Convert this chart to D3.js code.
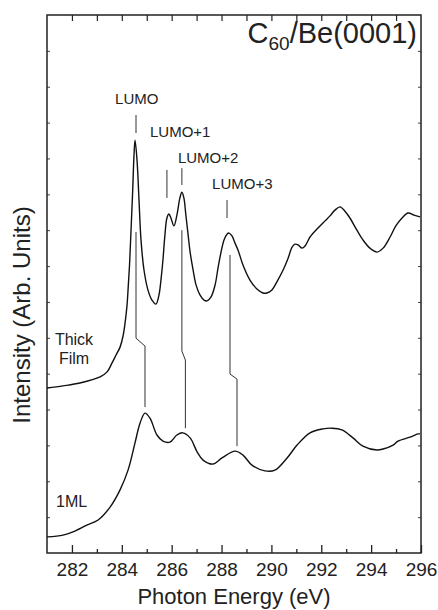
<!DOCTYPE html>
<html>
<head>
<meta charset="utf-8">
<script src="https://cdn.jsdelivr.net/npm/d3@7"></script>
<style>
  html, body { margin: 0; padding: 0; background: #fff; }
  svg text { font-family: "Liberation Sans", Arial, Helvetica, sans-serif; fill: #222; }
</style>
</head>
<body>
<svg id="chart" width="438" height="610"></svg>
<script>
// ---------- data ----------
const thickEnergy = [281.00,281.64,282.32,283.13,283.41,283.61,283.77,283.93,284.05,284.13,284.21,284.25,284.31,284.37,284.43,284.49,284.53,284.61,284.69,284.77,284.89,285.05,285.21,285.37,285.49,285.57,285.65,285.73,285.81,285.89,285.97,286.09,286.21,286.33,286.41,286.49,286.57,286.66,286.74,286.86,286.98,287.14,287.30,287.42,287.58,287.74,287.86,287.98,288.10,288.22,288.30,288.42,288.54,288.66,288.86,289.14,289.42,289.66,289.82,290.02,290.22,290.47,290.67,290.83,290.95,291.07,291.23,291.35,291.55,291.87,292.15,292.35,292.55,292.75,292.95,293.15,293.43,293.67,293.95,294.24,294.48,294.76,294.99,295.24,295.48,295.72,295.96];
const thickIntensity = [4.60,4.66,4.74,4.91,5.05,5.30,5.52,5.74,6.05,6.41,6.91,7.33,8.03,9.00,9.98,11.10,11.51,10.96,9.84,8.73,7.89,7.33,7.05,6.94,7.19,7.61,8.17,8.87,9.34,9.45,9.34,9.12,9.42,9.90,10.06,9.90,9.42,8.87,8.39,7.89,7.47,7.19,7.05,7.03,7.14,7.47,7.95,8.39,8.73,8.89,8.92,8.84,8.64,8.45,8.03,7.61,7.36,7.25,7.25,7.33,7.56,7.89,8.22,8.53,8.61,8.59,8.50,8.56,8.81,9.06,9.26,9.40,9.56,9.65,9.53,9.34,9.00,8.73,8.50,8.39,8.50,8.81,9.12,9.34,9.48,9.42,9.37];

const mlEnergy = [281.00,281.64,282.04,282.60,283.05,283.53,283.93,284.25,284.53,284.73,284.93,285.13,285.41,285.65,285.93,286.21,286.45,286.74,287.02,287.26,287.66,288.02,288.54,288.86,289.22,289.74,290.14,290.63,291.03,291.55,292.07,292.43,292.83,293.27,293.67,294.24,294.48,294.88,295.08,295.56,295.88,295.96];
const mlIntensity = [0.45,0.50,0.59,0.78,0.92,1.28,1.76,2.31,3.07,3.62,3.90,3.76,3.29,3.12,3.09,3.29,3.35,3.21,2.82,2.59,2.48,2.65,2.84,2.73,2.45,2.29,2.31,2.65,3.01,3.35,3.46,3.48,3.43,3.21,2.98,2.87,2.90,3.01,3.12,3.23,3.32,3.32];

// guide lines linking thick-film peaks to monolayer peaks: [energy, intensity] vertices
const guideLines = [
  [[284.57,8.95],[284.57,5.99],[284.93,5.77],[284.93,4.07]],
  [[286.41,9.00],[286.41,5.63],[286.55,5.38],[286.55,3.48]],
  [[288.34,8.31],[288.34,4.99],[288.62,4.85],[288.62,2.98]]
];

// orbital labels and their marker ticks
const orbitalNames = ["LUMO","LUMO+1","LUMO+2","LUMO+3"];
const markerEnergy = [284.57,285.81,286.41,288.22];
const markerTop    = [12.21,10.68,10.73,9.84];
const markerBottom = [11.71,9.90,10.26,9.34];
const labelEnergy  = [283.73,285.13,286.25,287.62];
const labelLevel   = [12.52,11.60,10.87,10.15];

const xTickValues = [282,284,286,288,290,292,294,296];
const xMinorValues = d3.range(282,296,1);
const yTickValues = d3.range(1,15,1);

// ---------- layout ----------
const svg = d3.select("#chart");
const L = 47, R = 421, T = 15, B = 553;
const x = d3.scaleLinear().domain([281,296]).range([L,R]);
const y = d3.scaleLinear().domain([0,15]).range([B,T]);

// axes
const gB = svg.append("g").attr("transform",`translate(0,${B})`);
gB.call(d3.axisBottom(x).tickValues(xMinorValues.filter(v=>v%2===1)).tickSize(-4).tickFormat(""));
gB.call(g=>g.select(".domain").remove());
const gB2 = svg.append("g").attr("transform",`translate(0,${B})`);
gB2.call(d3.axisBottom(x).tickValues(xTickValues).tickSize(-8).tickPadding(16).tickFormat(d3.format("d")));
gB2.select(".domain").remove();
gB2.selectAll("text").style("font-size","19px").attr("dy","0.71em").attr("y",10);
gB2.selectAll("line, path").attr("stroke","#222").attr("stroke-width",1.3);
gB.selectAll("line").attr("stroke","#222").attr("stroke-width",1.3);

const gT = svg.append("g").attr("transform",`translate(0,${T})`);
gT.call(d3.axisTop(x).tickValues(xMinorValues).tickSize(-6).tickFormat(""));
gT.select(".domain").remove();
gT.selectAll("line").attr("stroke","#222").attr("stroke-width",1.2);

const gL = svg.append("g").attr("transform",`translate(${L},0)`);
gL.call(d3.axisLeft(y).tickValues(yTickValues).tickSize(-3).tickFormat(""));
gL.select(".domain").remove();
gL.selectAll("line").attr("stroke","#444").attr("stroke-width",1);
const gR = svg.append("g").attr("transform",`translate(${R},0)`);
gR.call(d3.axisRight(y).tickValues(yTickValues).tickSize(-3).tickFormat(""));
gR.select(".domain").remove();
gR.selectAll("line").attr("stroke","#444").attr("stroke-width",1);

// frame
svg.append("rect").attr("x",L).attr("y",T).attr("width",R-L).attr("height",B-T)
  .attr("fill","none").attr("stroke","#222").attr("stroke-width",1.5);

// curves
const line = d3.line().x(d=>x(d[0])).y(d=>y(d[1])).curve(d3.curveCatmullRom.alpha(0.5));
svg.append("path").datum(d3.zip(thickEnergy,thickIntensity)).attr("d",line)
  .attr("fill","none").attr("stroke","#111").attr("stroke-width",1.4);
svg.append("path").datum(d3.zip(mlEnergy,mlIntensity)).attr("d",line)
  .attr("fill","none").attr("stroke","#111").attr("stroke-width",1.4);

// guide lines
const straight = d3.line().x(d=>x(d[0])).y(d=>y(d[1]));
svg.selectAll(".guide").data(guideLines).enter().append("path")
  .attr("d",straight).attr("fill","none").attr("stroke","#333").attr("stroke-width",1);

// markers
svg.selectAll(".marker").data(markerEnergy).enter().append("line")
  .attr("x1",d=>x(d)).attr("x2",d=>x(d))
  .attr("y1",(d,i)=>y(markerTop[i])).attr("y2",(d,i)=>y(markerBottom[i]))
  .attr("stroke","#333").attr("stroke-width",1);

// orbital labels
svg.selectAll(".olab").data(orbitalNames).enter().append("text")
  .attr("x",(d,i)=>x(labelEnergy[i])).attr("y",(d,i)=>y(labelLevel[i]))
  .style("font-size","15px").text(d=>d);

// series labels
svg.append("text").attr("x",74).attr("y",345).attr("text-anchor","middle").style("font-size","16px").text("Thick");
svg.append("text").attr("x",74).attr("y",364).attr("text-anchor","middle").style("font-size","16px").text("Film");
svg.append("text").attr("x",56).attr("y",507).style("font-size","16px").text("1ML");

// title
const title = svg.append("text").attr("x",417).attr("y",43).attr("text-anchor","end").style("font-size","29px");
title.append("tspan").text("C");
title.append("tspan").attr("dy",7).style("font-size","19px").text("60");
title.append("tspan").attr("dy",-7).text("/Be(0001)");

// axis titles
svg.append("text").attr("x",(L+R)/2).attr("y",604).attr("text-anchor","middle").style("font-size","22px").text("Photon Energy (eV)");
svg.append("text").attr("transform","translate(30,315) rotate(-90)").attr("text-anchor","middle").style("font-size","24px").text("Intensity (Arb. Units)");
</script>
</body>
</html>
